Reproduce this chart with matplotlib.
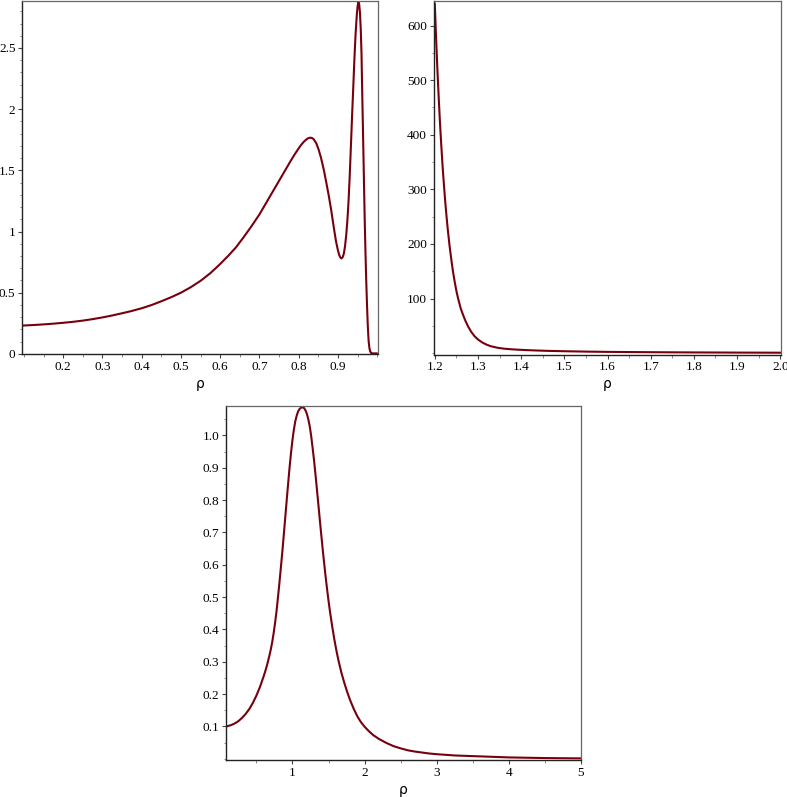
import matplotlib
matplotlib.use("Agg")
import matplotlib.pyplot as plt
from matplotlib.ticker import MultipleLocator, FixedLocator, FuncFormatter

# ---------------- data ----------------
p1_x = [0.1, 0.125, 0.15, 0.175, 0.2, 0.225, 0.25, 0.275, 0.3, 0.325, 0.35, 0.375,
        0.4, 0.425, 0.45, 0.475, 0.5, 0.525, 0.55, 0.575, 0.6, 0.62, 0.64, 0.66,
        0.68, 0.70, 0.72, 0.74, 0.76, 0.78, 0.79, 0.80, 0.805, 0.81, 0.815, 0.82,
        0.825, 0.83, 0.834, 0.838, 0.845, 0.851, 0.857, 0.864, 0.870, 0.877,
        0.883, 0.89, 0.895, 0.90, 0.903, 0.906, 0.909, 0.912, 0.915, 0.918, 0.921,
        0.924, 0.927, 0.930, 0.933, 0.936, 0.939, 0.942, 0.945, 0.948, 0.950,
        0.952, 0.954, 0.956, 0.958, 0.960, 0.962, 0.964, 0.966, 0.968, 0.970,
        0.972, 0.974, 0.976, 0.978, 0.980, 0.982, 0.985, 0.990, 0.999]
p1_y = [0.232, 0.236, 0.241, 0.247, 0.254, 0.262, 0.272, 0.284, 0.298, 0.314,
        0.332, 0.351, 0.373, 0.399, 0.43, 0.463, 0.50, 0.545, 0.597, 0.66, 0.735,
        0.80, 0.87, 0.955, 1.045, 1.14, 1.25, 1.36, 1.47, 1.58, 1.632, 1.68,
        1.703, 1.723, 1.740, 1.754, 1.764, 1.767, 1.764, 1.755, 1.72, 1.667, 1.60,
        1.503, 1.405, 1.285, 1.17, 1.02, 0.92, 0.845, 0.81, 0.788, 0.78, 0.79,
        0.82, 0.88, 0.97, 1.09, 1.25, 1.46, 1.70, 1.95, 2.18, 2.42, 2.62, 2.77,
        2.84, 2.875, 2.86, 2.79, 2.66, 2.45, 2.10, 1.78, 1.45, 1.12, 0.84, 0.60,
        0.40, 0.23, 0.11, 0.05, 0.02, 0.006, 0.004, 0.004]

p2_x = [1.200, 1.203, 1.206, 1.209, 1.212, 1.215, 1.218, 1.221, 1.224, 1.227,
        1.230, 1.234, 1.238, 1.242, 1.246, 1.250, 1.254, 1.260, 1.265, 1.271,
        1.277, 1.284, 1.292, 1.30, 1.31, 1.32, 1.33, 1.345, 1.36, 1.38, 1.40,
        1.43, 1.46, 1.50, 1.55, 1.60, 1.70, 1.80, 1.90, 2.0]
p2_y = [640, 577, 520, 469, 422, 381, 343, 310, 279, 252, 227, 198, 173, 150,
        131, 114, 100, 82, 71, 59, 49, 39.5, 31, 25, 19.5, 15.5, 12.6, 9.9, 8.2,
        6.9, 6.0, 5.0, 4.2, 3.5, 2.8, 2.3, 1.7, 1.3, 1.0, 0.8]

p3_x = [0.09, 0.15, 0.2, 0.25, 0.3, 0.35, 0.4, 0.45, 0.5, 0.55, 0.6, 0.62, 0.64,
        0.66, 0.68, 0.70, 0.72, 0.74, 0.76, 0.78, 0.80, 0.82, 0.84, 0.86, 0.88,
        0.90, 0.92, 0.94, 0.96, 0.98, 1.00, 1.02, 1.04, 1.06, 1.08, 1.10, 1.12,
        1.14, 1.16, 1.18, 1.20, 1.22, 1.24, 1.26, 1.28, 1.30, 1.32, 1.34, 1.36,
        1.38, 1.40, 1.42, 1.44, 1.46, 1.48, 1.50, 1.52, 1.55, 1.58, 1.61, 1.64,
        1.68, 1.72, 1.76, 1.80, 1.85, 1.90, 1.95, 2.0, 2.06, 2.12, 2.2, 2.3, 2.4,
        2.5, 2.6, 2.7, 2.8, 2.9, 3.0, 3.25, 3.5, 3.75, 4.0, 4.5, 5.0]
p3_y = [0.100, 0.104, 0.109, 0.116, 0.126, 0.138, 0.153, 0.172, 0.195, 0.222,
        0.254, 0.268, 0.283, 0.300, 0.318, 0.338, 0.361, 0.389, 0.421, 0.457,
        0.50, 0.545, 0.592, 0.64, 0.692, 0.745, 0.798, 0.85, 0.90, 0.945, 0.985,
        1.018, 1.044, 1.062, 1.075, 1.082, 1.086, 1.087, 1.085, 1.078, 1.067,
        1.05, 1.028, 0.998, 0.961, 0.922, 0.878, 0.832, 0.785, 0.738, 0.692,
        0.647, 0.604, 0.563, 0.525, 0.489, 0.456, 0.411, 0.370, 0.334, 0.302,
        0.265, 0.234, 0.206, 0.181, 0.154, 0.131, 0.113, 0.099, 0.085, 0.073,
        0.061, 0.049, 0.039, 0.032, 0.026, 0.022, 0.019, 0.016, 0.014, 0.010,
        0.008, 0.006, 0.004, 0.002, 0.001]

p1_yticks = [0, 0.5, 1, 1.5, 2, 2.5]
p1_xticks = [0.2, 0.3, 0.4, 0.5, 0.6, 0.7, 0.8, 0.9]
p2_yticks = [100, 200, 300, 400, 500, 600]
p2_xticks = [1.2, 1.3, 1.4, 1.5, 1.6, 1.7, 1.8, 1.9, 2.0]
p3_yticks = [0.1, 0.2, 0.3, 0.4, 0.5, 0.6, 0.7, 0.8, 0.9, 1.0]
p3_xticks = [1, 2, 3, 4, 5]
xlabel = "ρ"

# ---------------- styling ----------------
LINE = "#78000E"
W, H = 787, 797
fig = plt.figure(figsize=(W / 100, H / 100), dpi=100)
fig.patch.set_facecolor("white")


def make_ax(l, r, t, b):
    return fig.add_axes([l / W, 1 - b / H, (r - l) / W, (b - t) / H])


def style(ax, xminor, yminor, xfmt, yfmt, xticks, yticks):
    for s in ("left", "bottom"):
        ax.spines[s].set_color("#222222")
        ax.spines[s].set_linewidth(1.0)
    for s in ("top", "right"):
        ax.spines[s].set_color("#666666")
        ax.spines[s].set_linewidth(0.9)
    ax.xaxis.set_major_locator(FixedLocator(xticks))
    ax.yaxis.set_major_locator(FixedLocator(yticks))
    ax.xaxis.set_minor_locator(MultipleLocator(xminor))
    ax.yaxis.set_minor_locator(MultipleLocator(yminor))
    ax.xaxis.set_major_formatter(FuncFormatter(xfmt))
    ax.yaxis.set_major_formatter(FuncFormatter(yfmt))
    ax.tick_params(which="major", direction="out", length=3.2, width=0.8,
                   color="#444444", pad=1.5, labelsize=9.5)
    ax.tick_params(which="minor", direction="out", length=1.8, width=0.6,
                   color="#777777")
    ax.tick_params(top=False, right=False)
    for lab in ax.get_xticklabels() + ax.get_yticklabels():
        lab.set_fontfamily("Liberation Serif")
    ax.set_xlabel(xlabel, fontsize=10, family="DejaVu Sans", labelpad=3)


g = lambda v, p: "%g" % v
f1 = lambda v, p: "%.1f" % v
d0 = lambda v, p: "%d" % round(v)

# Panel 1
ax1 = make_ax(22, 378, 1, 354)
ax1.plot(p1_x, p1_y, color=LINE, lw=1.5, solid_joinstyle="round")
ax1.set_xlim(0.095, 1.002)
ax1.set_ylim(-0.001, 2.884)
style(ax1, 0.05, 0.1, g, g, p1_xticks, p1_yticks)

# Panel 2
ax2 = make_ax(433.5, 780.7, 0.5, 354.5)
ax2.plot(p2_x, p2_y, color=LINE, lw=1.5, solid_joinstyle="round")
ax2.set_xlim(1.197, 2.001)
ax2.set_ylim(-2.5, 646)
style(ax2, 0.05, 50, f1, d0, p2_xticks, p2_yticks)

# Panel 3
ax3 = make_ax(225.7, 581, 406, 760)
ax3.plot(p3_x, p3_y, color=LINE, lw=1.5, solid_joinstyle="round")
ax3.set_xlim(0.075, 5.0)
ax3.set_ylim(-0.004, 1.091)
style(ax3, 0.5, 0.05, d0, f1, p3_xticks, p3_yticks)

fig.savefig("out.png", dpi=100, facecolor="white")
